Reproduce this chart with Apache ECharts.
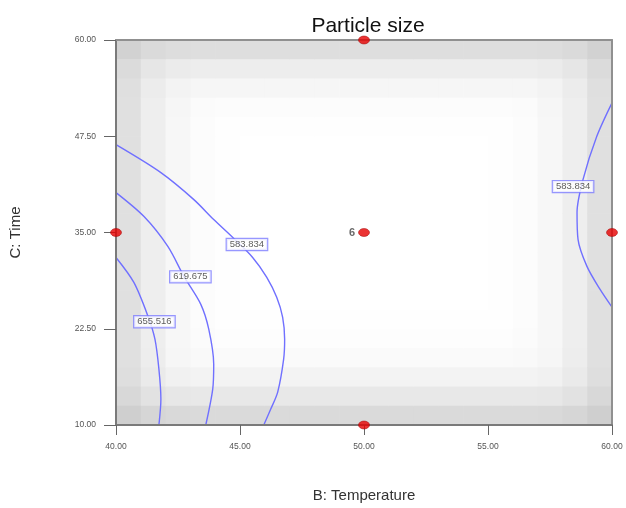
<!DOCTYPE html>
<html>
<head>
<meta charset="utf-8">
<script src="https://cdn.jsdelivr.net/npm/echarts@6/dist/echarts.min.js"></script>
<style>
  html, body { margin: 0; padding: 0; background: #ffffff; }
  #chart { width: 626px; height: 508px; }
</style>
</head>
<body>
<div id="chart"></div>
<script>
// Factor ranges and tick labels
const tempTicks = [40, 45, 50, 55, 60];
const timeTicks = [10, 22.5, 35, 47.5, 60];

// Design-space shading: darkness of each column (B, left to right) and each row (C, top to bottom)
const colShade = [31, 17, 8, 3, 1, 0, 0, 0, 0, 0, 0, 0, 0, 0, 0, 1, 3, 8, 17, 31];
const rowShade = [33, 18, 9, 3, 1, 0, 0, 0, 0, 0, 0, 0, 0, 0, 1, 2, 5, 12, 23, 37];

// Contour lines of the particle-size response, [Temperature, Time]
const contour583Left = [[40, 46.4], [41.81, 42.77], [43.14, 39.27], [43.94, 36.68], [44.71, 34.35],
  [45.51, 31.76], [46.08, 29.17], [46.48, 26.58], [46.72, 23.99], [46.8, 21.14], [46.76, 18.55],
  [46.52, 14.27], [46.24, 12.07], [45.96, 10]];
const contour619 = [[40, 40.18], [41.13, 37.07], [42.09, 33.19], [42.74, 29.3], [43.42, 25.67],
  [43.74, 22.44], [43.94, 17.9], [43.9, 14.66], [43.62, 10]];
const contour655 = [[40, 31.76], [40.72, 28.52], [41.29, 24.12], [41.57, 21.14], [41.73, 17.25],
  [41.81, 13.37], [41.73, 10]];
const contour583Right = [[60, 51.84], [59.38, 47.44], [58.83, 41.87], [58.59, 37.59], [58.63, 34.1],
  [58.99, 30.6], [59.52, 27.6], [60, 25.3]];

// Contour level labels: [Temperature, Time, level]
const contourLabels = [[45.28, 33.45, '583.834'], [43.0, 29.24, '619.675'], [41.55, 23.41, '655.516'], [58.43, 40.96, '583.834']];

// Design points and replicate count at the centre
const designPoints = [[50, 60], [40, 35], [50, 35], [60, 35], [50, 10]];
const centerReplicates = [[50, 35, '6']];

const bMin = tempTicks[0], bMax = tempTicks[tempTicks.length - 1];
const cMin = timeTicks[0], cMax = timeTicks[timeTicks.length - 1];

const cells = [];
const nCol = colShade.length, nRow = rowShade.length;
for (let i = 0; i < nCol; i++) {
  for (let j = 0; j < nRow; j++) {
    const d = Math.sqrt(colShade[i] * colShade[i] + rowShade[j] * rowShade[j]);
    const g = Math.round(255 - d);
    const b0 = bMin + (bMax - bMin) * i / nCol;
    const b1 = bMin + (bMax - bMin) * (i + 1) / nCol;
    const c1 = cMax - (cMax - cMin) * j / nRow;
    const c0 = cMax - (cMax - cMin) * (j + 1) / nRow;
    cells.push([b0, b1, c0, c1, g]);
  }
}

const chart = echarts.init(document.getElementById('chart'), null, { renderer: 'canvas' });
const font = 'Liberation Sans, Arial, sans-serif';
const lineStyle = { color: '#7070ff', width: 1.4 };

function contourSeries(data) {
  return {
    type: 'line', data: data, showSymbol: false, smooth: 0.3, silent: true,
    lineStyle: lineStyle, z: 4, animation: false
  };
}

chart.setOption({
  animation: false,
  backgroundColor: '#ffffff',
  title: {
    text: 'Particle size', left: 363, top: 11, textAlign: 'center',
    textStyle: { fontFamily: font, fontSize: 21, fontWeight: 'normal', color: '#111' }
  },
  grid: { left: 115, right: 14, top: 40, bottom: 82, containLabel: false },
  xAxis: [{
    type: 'value', min: bMin, max: bMax, interval: 5,
    name: 'B: Temperature', nameLocation: 'middle', nameGap: 63,
    nameTextStyle: { fontFamily: font, fontSize: 15, color: '#333' },
    axisLine: { show: true, lineStyle: { color: '#7a7a7a', width: 2 } },
    axisTick: { show: true, length: 10, lineStyle: { color: '#666', width: 1 } },
    axisLabel: { fontFamily: font, fontSize: 8.5, color: '#555', margin: 17, formatter: v => v.toFixed(2) },
    splitLine: { show: false }, z: 10
  }, {
    type: 'value', position: 'top', min: bMin, max: bMax,
    axisLine: { show: true, onZero: false, lineStyle: { color: '#909090', width: 2 } },
    axisTick: { show: false }, axisLabel: { show: false }, splitLine: { show: false }, z: 10
  }],
  yAxis: [{
    type: 'value', min: cMin, max: cMax,
    name: 'C: Time', nameLocation: 'middle', nameGap: 93, nameRotate: 90,
    nameTextStyle: { fontFamily: font, fontSize: 15, color: '#333' },
    axisLine: { show: true, lineStyle: { color: '#7a7a7a', width: 2 } },
    axisTick: { show: true, length: 12, customValues: timeTicks, lineStyle: { color: '#666', width: 1 } },
    axisLabel: { fontFamily: font, fontSize: 8.5, color: '#555', margin: 20, customValues: timeTicks, formatter: v => v.toFixed(2) },
    splitLine: { show: false }, z: 10
  }, {
    type: 'value', position: 'right', min: cMin, max: cMax,
    axisLine: { show: true, onZero: false, lineStyle: { color: '#909090', width: 2 } },
    axisTick: { show: false }, axisLabel: { show: false }, splitLine: { show: false }, z: 10
  }],
  series: [
    {
      type: 'custom', data: cells, silent: true, z: 1, clip: true,
      renderItem: function (params, api) {
        const p0 = api.coord([api.value(0), api.value(3)]);
        const p1 = api.coord([api.value(1), api.value(2)]);
        const g = api.value(4);
        return {
          type: 'rect',
          shape: { x: p0[0], y: p0[1], width: p1[0] - p0[0] + 0.6, height: p1[1] - p0[1] + 0.6 },
          style: { fill: 'rgb(' + g + ',' + g + ',' + g + ')' }
        };
      }
    },
    contourSeries(contour583Left),
    contourSeries(contour619),
    contourSeries(contour655),
    contourSeries(contour583Right),
    {
      type: 'scatter', data: contourLabels, symbolSize: 0, silent: true, z: 6,
      label: {
        show: true, position: 'inside', formatter: p => p.data[2],
        fontFamily: font, fontSize: 9.5, color: '#333',
        backgroundColor: '#ffffff', borderColor: '#7d7dff', borderWidth: 1.2, padding: [1, 3, 0, 3]
      }
    },
    {
      type: 'scatter', data: designPoints, symbol: 'circle', symbolSize: [11, 8], z: 20,
      itemStyle: { color: '#e60000', borderColor: '#a00000', borderWidth: 0.6 }, silent: true
    },
    {
      type: 'scatter', data: centerReplicates, symbolSize: 0, z: 21, silent: true,
      label: {
        show: true, position: 'left', distance: 9, formatter: p => p.data[2],
        fontFamily: font, fontSize: 11, fontWeight: 'bold', color: '#444'
      }
    }
  ]
});
</script>
</body>
</html>
